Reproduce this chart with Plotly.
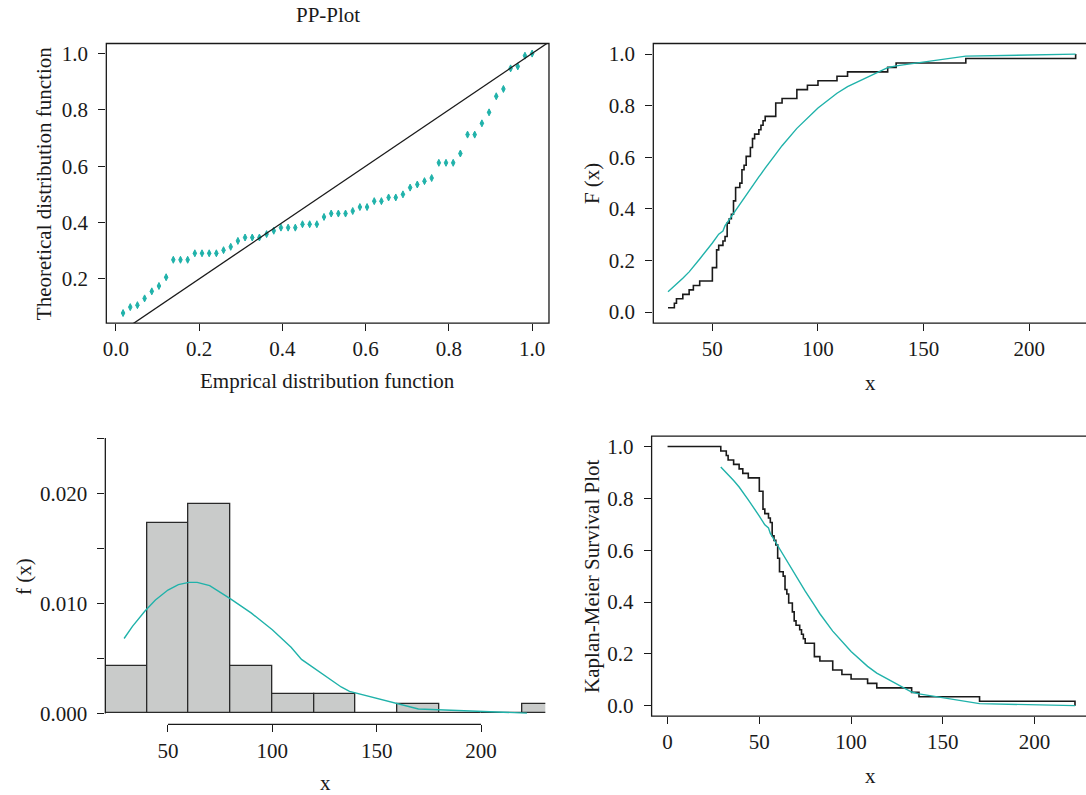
import numpy as np
import plotly.graph_objects as go

# ---------------- data ----------------
data_sorted = [29, 32, 33, 36, 39, 41, 44, 50, 50, 50, 52, 52, 52, 52, 53, 55, 56,
               57, 57, 57, 58, 59, 60, 60, 60, 61, 61, 61, 63, 64, 64, 64, 65, 66, 66,
               68, 68, 69, 69, 70, 72, 73, 74, 75, 80, 80, 80, 83, 90, 90, 95, 100,
               109, 114, 133, 137, 170, 222]

theoretical_cdf = [0.079, 0.100, 0.107, 0.131, 0.156, 0.175, 0.206,
                   0.268, 0.268, 0.268, 0.291, 0.291, 0.291, 0.291,
                   0.302, 0.314, 0.335, 0.347, 0.347, 0.347, 0.359, 0.371,
                   0.382, 0.382, 0.382, 0.394, 0.394, 0.394, 0.420,
                   0.432, 0.432, 0.432, 0.441, 0.455, 0.455, 0.476, 0.476,
                   0.489, 0.489, 0.500, 0.524, 0.535, 0.547, 0.558,
                   0.612, 0.612, 0.612, 0.645, 0.712, 0.712, 0.752, 0.791,
                   0.848, 0.874, 0.947, 0.954, 0.992, 0.9995]

density_x = [29, 33, 39, 44, 50, 55, 60, 64, 70, 75, 80, 90, 100, 109, 114, 133, 137, 170, 222]
density_y = [0.0068, 0.0079, 0.0093, 0.0103, 0.0112, 0.0117, 0.0119, 0.0119, 0.0116,
             0.0110, 0.0104, 0.0091, 0.0076, 0.0060, 0.0049, 0.0024, 0.0020, 0.0004, 0.00003]

bin_edges = [20, 40, 60, 80, 100, 120, 140, 160, 180, 200, 220, 240]
diag_line = [-0.2, 1.2]

pp_ticks = [0.0, 0.2, 0.4, 0.6, 0.8, 1.0]
prob_ticks = [0.0, 0.2, 0.4, 0.6, 0.8, 1.0]
ecdf_xticks = [50, 100, 150, 200]
hist_xticks = [50, 100, 150, 200]
hist_yticks = [0.0, 0.005, 0.010, 0.015, 0.020, 0.025]
hist_ytext = ["0.000", "", "0.010", "", "0.020", ""]
km_xticks = [0, 50, 100, 150, 200]

# ---------------- derived ----------------
xs = np.array(data_sorted, dtype=float)
n = len(xs)
ecdf = np.arange(1, n + 1) / n
pp_x = ecdf
surv = 1 - ecdf
fit_surv = 1 - np.array(theoretical_cdf)

edges = np.array(bin_edges, dtype=float)
bin_idx = np.searchsorted(edges, xs, side="left") - 1   # right-closed bins (a, b]
counts = np.bincount(bin_idx, minlength=len(edges) - 1)
widths = np.diff(edges)
dens = counts / (n * widths)
centers = (edges[:-1] + edges[1:]) / 2

# ---------------- styling ----------------
W, H = 1086, 795
TEAL = "#20B2AA"
INK = "#1a1a1a"
FONT = "Liberation Serif"
FS = 21

def PX(p):
    return p / W

def PY(p):
    return 1 - p / H

fig = go.Figure()

# Panel A: PP plot
fig.add_trace(go.Scatter(x=pp_x, y=theoretical_cdf, mode="markers",
                         marker=dict(symbol="diamond-tall", size=5, color=TEAL,
                                     line=dict(color=TEAL, width=1)),
                         xaxis="x", yaxis="y", showlegend=False))
fig.add_trace(go.Scatter(x=diag_line, y=diag_line, mode="lines",
                         line=dict(color=INK, width=1.3),
                         xaxis="x", yaxis="y", showlegend=False))

# Panel B: ECDF + fitted CDF
fig.add_trace(go.Scatter(x=xs, y=ecdf, mode="lines", line=dict(color=INK, width=1.6, shape="hv"),
                         xaxis="x2", yaxis="y2", showlegend=False))
fig.add_trace(go.Scatter(x=xs, y=theoretical_cdf, mode="lines", line=dict(color=TEAL, width=1.4),
                         xaxis="x2", yaxis="y2", showlegend=False))

# Panel C: histogram + density
fig.add_trace(go.Bar(x=centers, y=dens, width=widths,
                     marker=dict(color="#C9CBCA", line=dict(color="#2a2a2a", width=1.3)),
                     xaxis="x3", yaxis="y3", showlegend=False))
fig.add_trace(go.Scatter(x=density_x, y=density_y, mode="lines", line=dict(color=TEAL, width=1.4),
                         xaxis="x3", yaxis="y3", showlegend=False))

# Panel D: Kaplan-Meier + fitted survival
fig.add_trace(go.Scatter(x=np.concatenate([[0], xs]), y=np.concatenate([[1], surv]), mode="lines",
                         line=dict(color=INK, width=1.6, shape="hv"),
                         xaxis="x4", yaxis="y4", showlegend=False))
fig.add_trace(go.Scatter(x=xs, y=fit_surv, mode="lines", line=dict(color=TEAL, width=1.4),
                         xaxis="x4", yaxis="y4", showlegend=False))

def axis(domain, rng, tickvals, ticktext=None, fmt=None, anchor=None, standoff=0):
    d = dict(domain=domain, range=rng, tickmode="array", tickvals=tickvals,
             ticks="outside", ticklen=7, tickwidth=1.3, tickcolor=INK,
             showline=False, showgrid=False, zeroline=False, anchor=anchor,
             tickfont=dict(family=FONT, size=FS, color=INK),
             ticklabelstandoff=standoff)
    if ticktext is not None:
        d["ticktext"] = ticktext
    if fmt is not None:
        d["tickformat"] = fmt
    return d

# pixel geometry
A = dict(l=102.7, r=547.0, t=41.7, b=322.7)
B = dict(l=651.7, r=1086.0, t=41.7, b=322.7)
C = dict(l=101.7, r=543.3, t=438.3, b=726.0)
D = dict(l=650.0, r=1086.0, t=436.3, b=717.7)

layout = dict(
    width=W, height=H, margin=dict(l=0, r=0, t=0, b=0),
    paper_bgcolor="white", plot_bgcolor="white",
    font=dict(family=FONT, size=FS, color=INK),
    bargap=0,
    xaxis=axis([PX(A["l"]), PX(A["r"])], [-0.023, 1.0405], pp_ticks, fmt=".1f", anchor="y"),
    yaxis=axis([PY(A["b"]), PY(A["t"])], [0.0434, 1.0353], pp_ticks[1:], fmt=".1f", anchor="x", standoff=6),
    xaxis2=axis([PX(B["l"]), 1.0], [22.03, 226.9], ecdf_xticks, anchor="y2"),
    yaxis2=axis([PY(B["b"]), PY(B["t"])], [-0.0424, 1.0409], prob_ticks, fmt=".1f", anchor="x2", standoff=6),
    xaxis3=axis([PX(C["l"]), PX(C["r"])], [20, 230.8], hist_xticks, anchor="y3"),
    yaxis3=axis([PY(C["b"]), PY(C["t"])], [-0.000994, 0.025], hist_yticks, ticktext=hist_ytext, anchor="x3", standoff=6),
    xaxis4=axis([PX(D["l"]), 1.0], [-8.69, 228.0], km_xticks, anchor="y4"),
    yaxis4=axis([PY(D["b"]), PY(D["t"])], [-0.0399, 1.0403], prob_ticks, fmt=".1f", anchor="x4", standoff=6),
)
fig.update_layout(**layout)

box_line = dict(color=INK, width=1.3)
shapes = [
    dict(type="rect", xref="paper", yref="paper", x0=PX(A["l"]), x1=PX(A["r"]),
         y0=PY(A["b"]), y1=PY(A["t"]), line=box_line, layer="above"),
    dict(type="rect", xref="paper", yref="paper", x0=PX(B["l"]), x1=1.02,
         y0=PY(B["b"]), y1=PY(B["t"]), line=box_line, layer="above"),
    dict(type="rect", xref="paper", yref="paper", x0=PX(D["l"]), x1=1.02,
         y0=PY(D["b"]), y1=PY(D["t"]), line=box_line, layer="above"),
    # histogram axes (R style: line from first to last tick)
    dict(type="line", xref="paper", yref="y3", x0=PX(C["l"]), x1=PX(C["l"]),
         y0=hist_yticks[0], y1=hist_yticks[-1], line=box_line, layer="above"),
    dict(type="line", xref="x3", yref="paper", x0=hist_xticks[0], x1=hist_xticks[-1],
         y0=PY(C["b"]), y1=PY(C["b"]), line=box_line, layer="above"),
]
fig.update_layout(shapes=shapes)

def label(text, x, y, angle=0):
    return dict(text=text, x=PX(x), y=PY(y), xref="paper", yref="paper",
                showarrow=False, textangle=angle, xanchor="center", yanchor="middle",
                font=dict(family=FONT, size=FS, color=INK))

annotations = [
    label("PP-Plot", (A["l"] + A["r"]) / 2, 13),
    label("Emprical distribution function", (A["l"] + A["r"]) / 2, 381),
    label("Theoretical distribution function", 40, (A["t"] + A["b"]) / 2, -90),
    label("F (x)", 590, (B["t"] + B["b"]) / 2, -90),
    label("x", 870, 383),
    label("f (x)", 20, 577, -90),
    label("x", (C["l"] + C["r"]) / 2, 785),
    label("Kaplan-Meier Survival Plot", 590, (D["t"] + D["b"]) / 2, -90),
    label("x", 870, 778),
]
fig.update_layout(annotations=annotations)

fig.write_html("out.html")
